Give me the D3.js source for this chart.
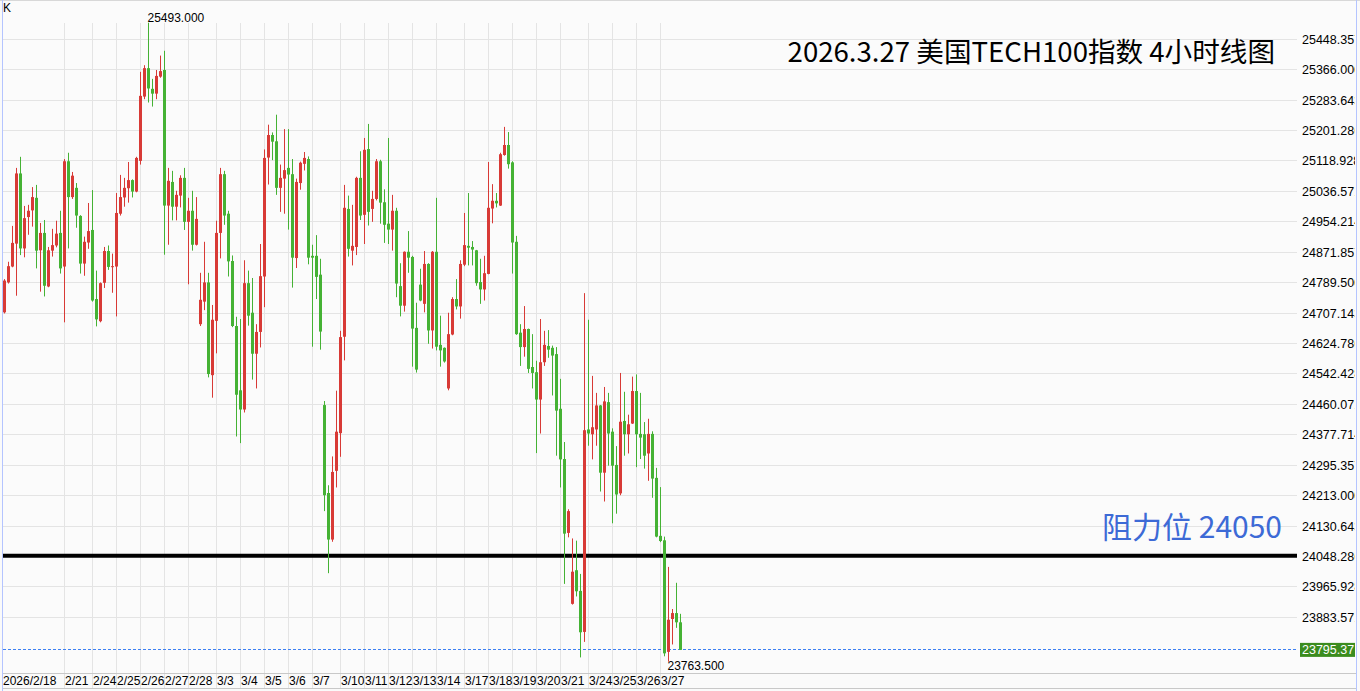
<!DOCTYPE html>
<html>
<head>
<meta charset="utf-8">
<script src="https://cdn.jsdelivr.net/npm/d3@7/dist/d3.min.js"></script>
<style>
  body { margin: 0; background: #fafafa; }
  svg { display: block; }
  text { font-family: "Liberation Sans", Arial, sans-serif; }
</style>
</head>
<body>
<svg id="chart" width="1360" height="691"></svg>
<script>
// 4h candles, [open, high, low, close]
var candles = [
  [24709,24799,24706,24795],[24790,24846,24787,24834],[24833,24943,24831,24897],[24895,25100,24754,25085],
  [25085,25130,24864,24882],[24882,24997,24858,24964],[24967,25000,24919,24984],[24985,25048,24941,25021],
  [25019,25054,24828,24876],[24877,24951,24765,24924],[24924,24959,24752,24781],[24779,24886,24777,24877],
  [24876,24935,24860,24891],[24890,24957,24885,24922],[24924,24984,24814,24828],[24833,25124,24682,25118],
  [25118,25141,24882,25021],[25021,25089,25016,25079],[25046,25059,24938,24971],[24970,24972,24814,24841],
  [24841,24914,24808,24900],[24898,25005,24881,24929],[24932,25040,24738,24741],[24745,24822,24671,24690],
  [24685,24790,24682,24788],[24789,24886,24775,24875],[24875,24890,24824,24832],[24832,24868,24762,24834],
  [24833,25032,24698,24978],[24976,25081,24971,25021],[25020,25073,24995,25046],[25045,25116,25006,25067],
  [25067,25069,25020,25036],[25036,25130,25034,25127],[25119,25360,25109,25295],[25293,25378,25286,25370],
  [25370,25493,25277,25315],[25314,25341,25266,25301],[25301,25365,25286,25349],[25347,25404,25344,25362],
  [25365,25417,24865,24998],[24998,25100,24892,25065],[25062,25092,24958,24995],[24995,25038,24958,25027],
  [25025,25080,24993,25073],[25073,25100,24932,24954],[24954,25019,24785,24984],[24984,25038,24876,24892],
  [24892,25021,24890,24962],[24677,24816,24672,24743],[24738,24900,24715,24790],[24790,24816,24533,24542],
  [24539,24729,24478,24689],[24686,24957,24598,24924],[24924,25100,24855,25083],[25083,25092,24946,24971],
  [24976,24984,24806,24847],[24848,24863,24669,24672],[24672,24697,24373,24486],[24498,24691,24355,24446],
  [24446,24850,24438,24788],[24788,24822,24673,24700],[24708,24802,24527,24597],[24597,24677,24503,24656],
  [24656,24894,24614,24807],[24806,25150,24723,25127],[25128,25217,25055,25189],[25189,25196,25121,25171],
  [25172,25244,25027,25046],[25046,25109,24981,25073],[25071,25205,24976,25094],[25100,25205,24933,25082],
  [25083,25124,24776,24857],[24856,25071,24829,25062],[25059,25117,25041,25114],[25111,25143,25093,25127],
  [25124,25131,24839,24857],[24862,24892,24616,24857],[24862,24918,24745,24805],[24811,24854,24608,24657],
  [24458,24469,24171,24214],[24220,24241,24003,24094],[24094,24319,24088,24277],[24280,24497,24235,24386],
  [24382,24659,24318,24642],[24643,25054,24579,24992],[24989,25025,24860,24881],[24876,25000,24836,24889],
  [24886,25076,24864,25073],[25073,25145,24959,24971],[24973,25181,24894,25149],[25151,25219,24944,24981],
  [24989,25038,24954,25016],[25016,25124,25012,25118],[25118,25122,24949,25006],[25007,25042,24897,24946],
  [24949,25181,24894,24933],[24933,25027,24876,24984],[24984,24992,24750,24787],[24780,24842,24698,24727],
  [24727,24874,24711,24873],[24873,24929,24816,24857],[24859,24862,24562,24665],[24667,24735,24546,24554],
  [24784,24827,24739,24741],[24732,24875,24709,24840],[24840,24842,24624,24660],[24660,24875,24611,24873],
  [24873,25019,24606,24616],[24621,24700,24562,24606],[24613,24614,24573,24576],[24503,24708,24498,24650],
  [24649,24750,24647,24745],[24745,24799,24717,24725],[24725,24850,24692,24840],[24838,24978,24834,24891],
  [24889,25032,24836,24884],[24886,24902,24836,24879],[24877,24878,24781,24788],[24791,24854,24732,24771],
  [24771,24862,24741,24815],[24813,25116,24812,24992],[24990,25056,24950,25011],[25011,25032,24993,25004],
  [24998,25141,24997,25137],[25135,25211,25133,25162],[25162,25197,25098,25110],[25115,25118,24814,24898],
  [24900,24916,24648,24650],[24654,24677,24564,24615],[24615,24726,24589,24664],[24664,24665,24545,24556],
  [24561,24650,24503,24545],[24547,24578,24328,24473],[24473,24691,24381,24574],[24574,24659,24564,24621],
  [24618,24661,24586,24608],[24613,24619,24484,24592],[24596,24615,24321,24443],[24448,24529,24235,24311],
  [24312,24358,23974,24110],[24112,24176,24100,24171],[23920,24097,23918,24007],[24011,24091,23940,23954],
  [23955,24001,23775,23843],[23844,24761,23817,24390],[24392,24689,24348,24381],[24379,24537,24311,24398],
  [24392,24491,24348,24457],[24457,24458,24224,24275],[24275,24507,24197,24468],[24466,24491,24294,24381],
  [24386,24395,24138,24294],[24296,24347,24164,24216],[24219,24545,24214,24413],[24415,24494,24321,24379],
  [24379,24432,24327,24406],[24408,24535,24407,24496],[24496,24541,24290,24379],[24380,24491,24312,24370],
  [24379,24412,24286,24321],[24327,24421,24253,24380],[24380,24387,24207,24259],[24261,24288,24100,24102],
  [24104,24236,24087,24090],[24092,24102,23778,23786],[23790,24020,23763.5,23877],[23879,23906,23810,23895],
  [23895,23977,23855,23870],[23870,23893,23795,23795.37]
];

// date labels and the candle they start on
var dateLabels = ["2026/2/18","2/21","2/24","2/25","2/26","2/27","2/28","3/3","3/4","3/5","3/6","3/7",
  "3/10","3/11","3/12","3/13","3/14","3/17","3/18","3/19","3/20","3/21","3/24","3/25","3/26","3/27"];
var dateIdx = [0,15,22,28,34,40,46,53,59,65,71,77,84,90,96,102,108,115,121,127,133,139,146,152,158,164];

var priceTicks = ["25448.357","25366.000","25283.643","25201.286","25118.928","25036.571","24954.214",
  "24871.857","24789.500","24707.143","24624.786","24542.428","24460.071","24377.714","24295.357",
  "24213.000","24130.643","24048.286","23965.928","23883.571"];

var resistance = 24050;
var lastPrice = 23795.37;
var maxIdx = 36, maxVal = 25493.000;
var minIdx = 166, minVal = 23763.500;
var title = "2026.3.27 美国TECH100指数 4小时线图";
var resistLabel = "阻力位 24050";

var W = 1360, H = 691;
var plotL = 3, plotR = 1297, plotT = 23, plotB = 673;
var upColor = "#d83a36", downColor = "#45b234";

var svg = d3.select("#chart");

var x = d3.scaleLinear().domain([0, candles.length - 1]).range([4.5, 4.5 + 4 * (candles.length - 1)]);
var y = d3.scaleLinear().domain([23883.571, 25448.357]).range([617.3, 39.2]);
var crisp = function (v) { return Math.floor(v) + 0.5; };

svg.append("rect").attr("width", W).attr("height", H).attr("fill", "#fafafa");
svg.append("rect").attr("x", plotL).attr("y", 0).attr("width", W - plotL - 4).attr("height", plotB)
  .attr("fill", "#fbfbfb");

// grid
var grid = svg.append("g").attr("stroke", "#e4e4e4").attr("stroke-width", 1);
grid.selectAll("line.h").data(priceTicks).enter().append("line")
  .attr("x1", plotL).attr("x2", plotR)
  .attr("y1", function (d) { return crisp(y(+d)); })
  .attr("y2", function (d) { return crisp(y(+d)); });
grid.selectAll("line.v").data(dateIdx.slice(1)).enter().append("line")
  .attr("y1", plotT).attr("y2", 688)
  .attr("x1", function (d) { return x(d); })
  .attr("x2", function (d) { return x(d); });

// frame
svg.append("line").attr("x1", 0).attr("x2", W).attr("y1", 0.5).attr("y2", 0.5).attr("stroke", "#d8d8d8");
svg.append("line").attr("x1", 2.5).attr("x2", 2.5).attr("y1", 0).attr("y2", H).attr("stroke", "#b4c4ff");
svg.append("line").attr("x1", 1356.5).attr("x2", 1356.5).attr("y1", 0).attr("y2", H).attr("stroke", "#b4c4ff");
svg.append("line").attr("x1", plotL).attr("x2", 1356).attr("y1", 673.5).attr("y2", 673.5).attr("stroke", "#c8c8c8");
svg.append("line").attr("x1", plotL).attr("x2", 1356).attr("y1", 688.5).attr("y2", 688.5).attr("stroke", "#c8c8c8");

// resistance line
svg.append("line").attr("x1", plotL).attr("x2", plotR)
  .attr("y1", y(resistance)).attr("y2", y(resistance))
  .attr("stroke", "#000").attr("stroke-width", 4);

// last price dashed line
svg.append("line").attr("x1", plotL).attr("x2", plotR)
  .attr("y1", crisp(y(lastPrice))).attr("y2", crisp(y(lastPrice)))
  .attr("stroke", "#3d80f2").attr("stroke-dasharray", "3,2");

// candles
var c = svg.append("g").selectAll("g").data(candles).enter().append("g");
var colorOf = function (d) { return d[3] >= d[0] ? upColor : downColor; };
c.append("line")
  .attr("x1", function (d, i) { return x(i); })
  .attr("x2", function (d, i) { return x(i); })
  .attr("y1", function (d) { return y(d[1]); })
  .attr("y2", function (d) { return y(d[2]); })
  .attr("stroke", colorOf).attr("stroke-width", 1);
c.append("rect")
  .attr("x", function (d, i) { return x(i) - 1.5; })
  .attr("width", 3)
  .attr("y", function (d) { return y(Math.max(d[0], d[3])); })
  .attr("height", function (d) { return Math.max(1, y(Math.min(d[0], d[3])) - y(Math.max(d[0], d[3]))); })
  .attr("fill", colorOf);

// right axis
svg.append("defs").append("clipPath").attr("id", "axclip")
  .append("rect").attr("x", 1297).attr("y", 0).attr("width", 58).attr("height", H);
var ax = svg.append("g").attr("clip-path", "url(#axclip)");
ax.selectAll("text").data(priceTicks).enter().append("text")
  .attr("x", 1302).attr("y", function (d) { return y(+d); }).attr("dy", "0.36em")
  .attr("font-size", 12.5).attr("fill", "#000").text(function (d) { return d; });
ax.append("rect").attr("x", 1300).attr("y", y(lastPrice) - 7).attr("width", 57).attr("height", 14)
  .attr("fill", "#3b8c1e");
ax.append("text").attr("x", 1302).attr("y", y(lastPrice)).attr("dy", "0.36em")
  .attr("font-size", 12.5).attr("fill", "#fff").text(lastPrice.toFixed(2));

// bottom axis
svg.append("g").selectAll("text").data(dateLabels).enter().append("text")
  .attr("x", function (d, i) { return i === 0 ? 3 : x(dateIdx[i]) + 0.5; })
  .attr("y", 685).attr("font-size", 12).attr("fill", "#000")
  .text(function (d) { return d; });

// labels
svg.append("text").attr("x", 3).attr("y", 12).attr("font-size", 12).text("K");
svg.append("text").attr("x", x(maxIdx) - 1).attr("y", 22).attr("font-size", 12).text(maxVal.toFixed(3));
svg.append("text").attr("x", x(minIdx) - 1).attr("y", 670).attr("font-size", 12).text(minVal.toFixed(3));

svg.append("text").attr("x", 1275).attr("y", 62).attr("text-anchor", "end")
  .style("font-family", "'Noto Sans CJK SC', sans-serif").attr("font-size", 27.6).attr("fill", "#000")
  .text(title);
svg.append("text").attr("x", 1282).attr("y", 538).attr("text-anchor", "end")
  .style("font-family", "'Noto Sans CJK SC', sans-serif").attr("font-size", 30).attr("fill", "#3d6ad6")
  .text(resistLabel);
</script>
</body>
</html>
